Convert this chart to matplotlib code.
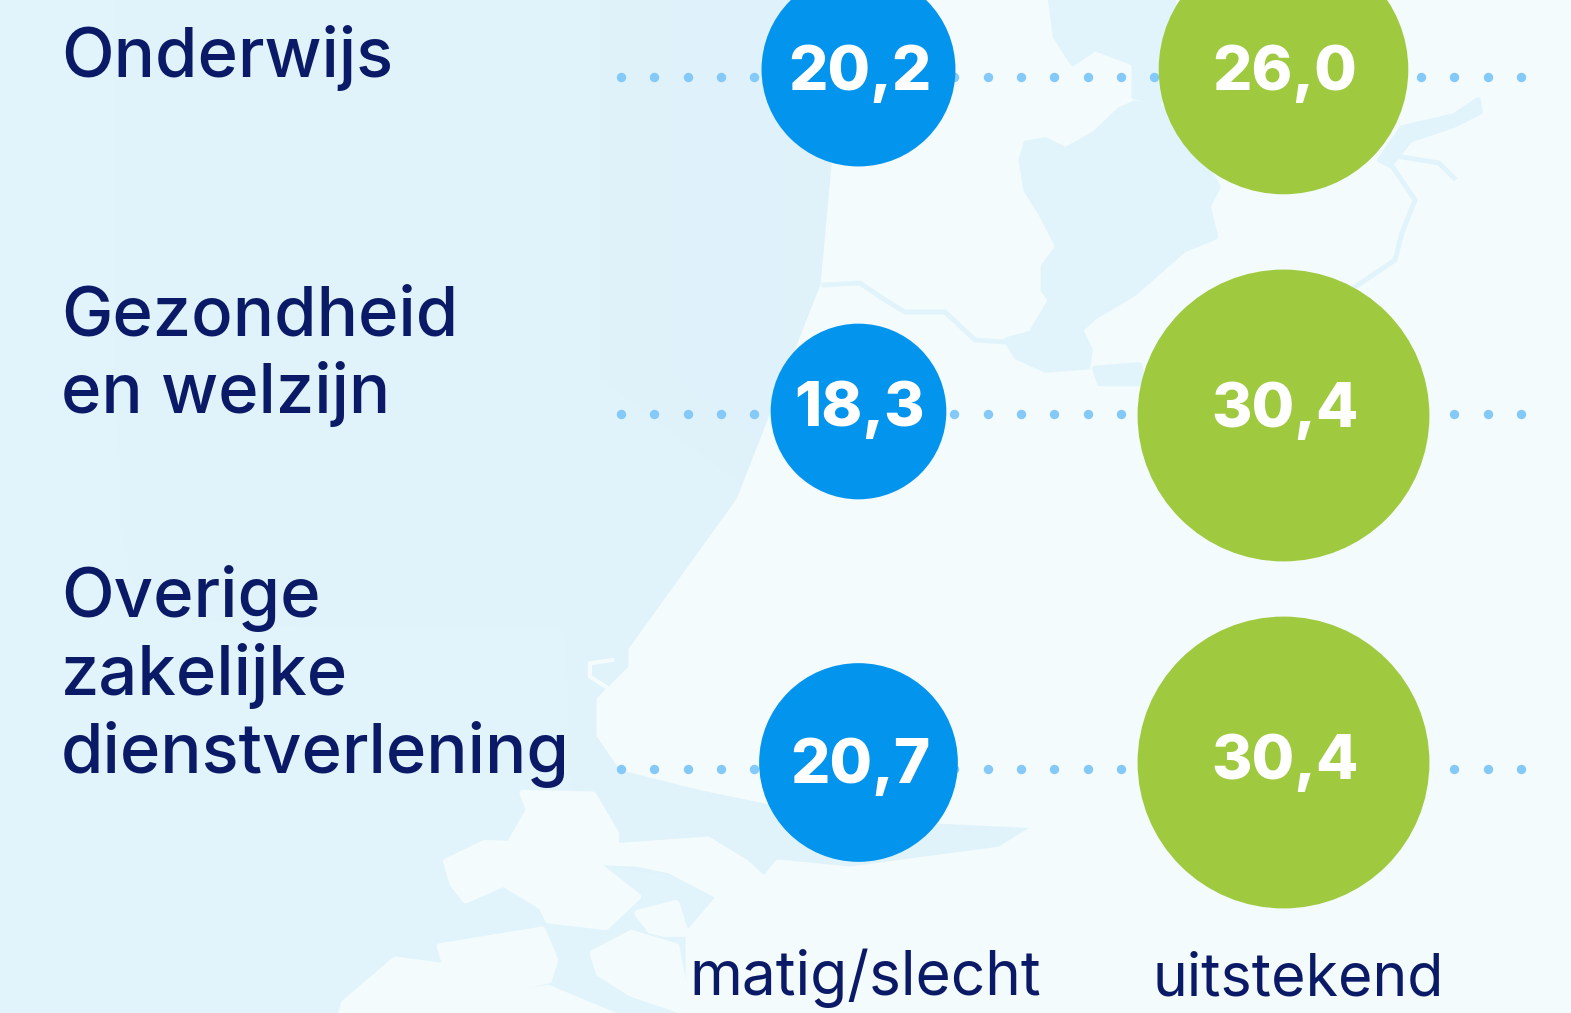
import numpy as np
import matplotlib
matplotlib.use('Agg')
import matplotlib.pyplot as plt
from matplotlib.colors import LinearSegmentedColormap
from matplotlib.patches import Polygon

plt.rcParams['font.family'] = ['Inter', 'DejaVu Sans']

# data
categories = ['Onderwijs', 'Gezondheid\nen welzijn', 'Overige\nzakelijke\ndienstverlening']
matig_slecht = [20.2, 18.3, 20.7]
uitstekend = [26.0, 30.4, 30.4]
col_labels = ['matig/slecht', 'uitstekend']

NAVY = '#0b1a66'
BLUE = '#0394ee'
GREEN = '#9fca3f'
DOT = '#84c9f7'
WATER = '#e1f4fb'
LAND = '#f4fbfc'

W, H = 1571, 1013
fig = plt.figure(figsize=(W / 100, H / 100), dpi=100)
ax = fig.add_axes([0, 0, 1, 1])

# background: sea with a faint map of the Netherlands
shade = np.array([[0.0, 0.2, 0.3, 0.5, 0.7, 1.0, 1.0],
                  [0.0, 0.2, 0.3, 0.5, 0.7, 1.0, 1.0],
                  [0.0, 0.0, 0.0, 0.2, 0.3, 0.4, 0.4],
                  [0.0, 0.0, 0.0, 0.0, 0.0, 0.0, 0.0]])
sea = LinearSegmentedColormap.from_list('sea', [WATER, '#deeff9'])
ax.imshow(shade, extent=(0, W, H, 0), aspect='auto', cmap=sea, interpolation='bilinear', zorder=0)
ax.set_xlim(0, W)
ax.set_ylim(H, 0)
ax.axis('off')


def land(pts, z=1):
    ax.add_patch(Polygon(pts, closed=True, fc=LAND, ec=LAND, lw=5, joinstyle='round', zorder=z))


def water(pts, z=2):
    ax.add_patch(Polygon(pts, closed=True, fc=WATER, ec=WATER, lw=4, joinstyle='round', zorder=z))


def top(pts):
    pts = np.array(pts, dtype=float)
    return np.c_[800 + pts[:, 0] / 2.034, pts[:, 1] / 3]


def low(pts):
    pts = np.array(pts, dtype=float)
    return np.c_[pts[:, 0] / 1.568, 500 + pts[:, 1] / 3]


land([(840, -5), (835, 165), (824, 285), (740, 500), (632, 650), (632, 668), (600, 700), (600, 735), (622, 767),
      (702, 787), (765, 800), (830, 815), (1040, 825), (1000, 850), (850, 870), (778, 863), (759, 887), (720, 897),
      (689, 933), (689, 1020), (1580, 1020), (1580, -5)])

water(top([(510, 0), (520, 110), (555, 190), (600, 145), (680, 190), (680, 290), (730, 310), (760, 0)]))
water(top([(460, 430), (500, 420), (540, 450), (600, 400), (650, 330), (680, 310), (760, 330), (850, 560),
           (830, 620), (845, 710), (780, 750), (680, 880), (600, 950), (570, 990), (590, 1050), (585, 1100),
           (500, 1110), (440, 1070), (420, 1020), (470, 1000), (510, 900), (495, 870), (495, 800),
           (525, 740), (490, 640), (460, 570), (450, 480)]))
water(top([(600, 1105), (690, 1095), (700, 1150), (610, 1150)]))
water([(1478, 100), (1480, 112), (1454, 125), (1410, 140), (1390, 165), (1380, 160), (1402, 128), (1454, 116)])
for r in [[(824, 285), (860, 283), (885, 300), (905, 312), (945, 312), (975, 340), (1005, 342), (1020, 345)],
          [(1402, 157), (1439, 163), (1454, 178)],
          [(1390, 163), (1415, 200), (1402, 233), (1395, 260), (1355, 287)]]:
    r = np.array(r)
    ax.plot(r[:, 0], r[:, 1], color=WATER, lw=3.5, solid_joinstyle='round', zorder=2)

# islands in the delta
for pts in [[(820, 880), (930, 885), (965, 1000), (965, 1040), (1110, 1020), (1170, 1090), (1195, 1135), (1130, 1190),
             (1050, 1110), (1000, 1090), (940, 1085), (905, 1040), (800, 1030), (830, 930)],
            [(700, 1085), (760, 1030), (900, 1040), (940, 1100), (1000, 1190), (950, 1280), (860, 1260), (850, 1220),
             (790, 1150), (730, 1200), (710, 1150)],
            [(1000, 1240), (1060, 1210), (1075, 1300), (1040, 1300), (1020, 1290)],
            [(930, 1360), (990, 1300), (1060, 1340), (1080, 1539), (990, 1480), (940, 1420)],
            [(535, 1545), (540, 1510), (620, 1380), (700, 1400), (690, 1340), (850, 1290), (870, 1380), (860, 1440),
             (770, 1480), (720, 1545)],
            [(730, 1545), (770, 1490), (860, 1465), (960, 1545)]]:
    land(low(pts), 3)
pier = low([(960, 480), (925, 490), (925, 530), (950, 560)])
ax.plot(pier[:, 0], pier[:, 1], color=LAND, lw=3, zorder=3)

# dotted guide lines behind the bubbles
rows_y = [77, 414, 769]
dot_x = np.arange(621, 1525, 33.33)
for y in rows_y:
    ax.scatter(dot_x, np.full_like(dot_x, y), s=46, color=DOT, lw=0, zorder=4)

# bubbles, diameter follows the value
PX_PER_UNIT = 9.6
bubble_y = [[69, 411, 762], [69, 415, 762]]
text_y = [[74, 410, 767], [74, 411, 763]]
bubble_x = [858, 1283]
series = [matig_slecht, uitstekend]
colors = [BLUE, GREEN]
for x, ys, tys, vals, c in zip(bubble_x, bubble_y, text_y, series, colors):
    for y, ty, v in zip(ys, tys, vals):
        d_pt = v * PX_PER_UNIT * 0.72
        ax.scatter(x, y, s=d_pt ** 2, color=c, lw=0, zorder=6)
        ax.text(x + 2, ty, f'{v:.1f}'.replace('.', ','), color='white', fontsize=44.5, fontweight=800,
                ha='center', va='center', zorder=7)

# row labels
label_y = [77, 335, 617]
for lab, y in zip(categories, label_y):
    for i, part in enumerate(lab.split('\n')):
        ax.text(61, y + 78 * i, part, color=NAVY, fontsize=49.5, fontweight='medium', va='baseline', zorder=7)

# column labels
ax.text(865, 995, col_labels[0], color=NAVY, fontsize=43.5, ha='center', va='baseline', zorder=7)
ax.text(1298, 995, col_labels[1], color=NAVY, fontsize=42.5, ha='center', va='baseline', zorder=7)

fig.savefig('out.png', dpi=100)
